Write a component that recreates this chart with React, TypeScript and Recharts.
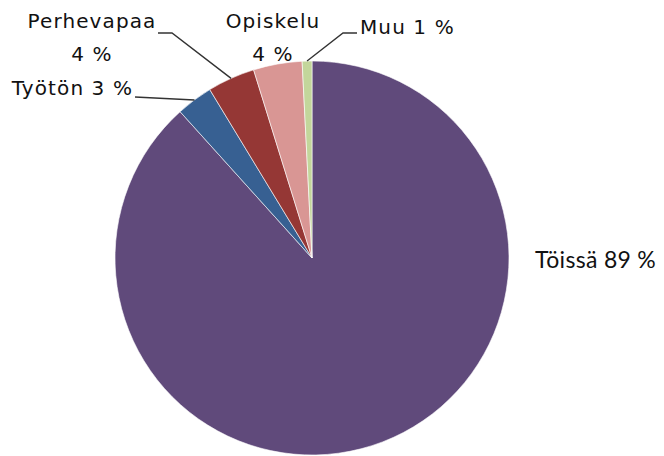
import { PieChart, Pie, Cell } from 'recharts';

const categories = ['Töissä', 'Työtön', 'Perhevapaa', 'Opiskelu', 'Muu'];
const shares = [88.5, 3.0, 3.9, 4.0, 0.8];
const COLORS = ['#604A7B', '#376092', '#953735', '#D99694', '#C3D69B'];

const data = categories.map((name, i) => ({ name, value: shares[i] }));

// label placement, roughly where the original chart had them dragged to
const LABEL_LAYOUT = [
  { x: 535, y: 259, anchor: 'start', lines: 1, font: 'Lato', elbow: null },
  { x: 133, y: 88, anchor: 'end', lines: 1, font: 'DejaVu Sans', elbow: [[135, 97]] },
  { x: 92, y: 21, anchor: 'middle', lines: 2, font: 'DejaVu Sans', elbow: [[172, 33], [158, 33]] },
  { x: 273, y: 21, anchor: 'middle', lines: 2, font: 'DejaVu Sans', elbow: null },
  { x: 360, y: 27, anchor: 'start', lines: 1, font: 'DejaVu Sans', elbow: [[343, 33], [357, 33]] },
];

const RAD = Math.PI / 180;

const renderLabel = (props: any) => {
  const { cx, cy, midAngle, outerRadius, index, value, name } = props;
  const cfg = LABEL_LAYOUT[index];
  const pct = `${Math.round(value)} %`;
  const sx = cx + outerRadius * Math.cos(-midAngle * RAD);
  const sy = cy + outerRadius * Math.sin(-midAngle * RAD);
  const isLato = cfg.font === 'Lato';
  const fontSize = isLato ? 23 : 20;
  const spacing = isLato ? 0.3 : 1.1;
  return (
    <g key={`lbl-${index}`}>
      {cfg.elbow && (
        <polyline
          points={[[sx, sy], ...cfg.elbow].map((p) => p.join(',')).join(' ')}
          fill="none"
          stroke="#333333"
          strokeWidth={1.4}
        />
      )}
      {cfg.lines === 2 ? (
        <text
          x={cfg.x}
          textAnchor={cfg.anchor}
          fill="#111111"
          fontFamily={cfg.font}
          fontSize={fontSize}
          letterSpacing={spacing}
        >
          <tspan x={cfg.x} y={cfg.y} dominantBaseline="central">{name}</tspan>
          <tspan x={cfg.x} y={cfg.y + 33} dominantBaseline="central">{pct}</tspan>
        </text>
      ) : (
        <text
          x={cfg.x}
          y={cfg.y}
          textAnchor={cfg.anchor}
          dominantBaseline="central"
          fill="#111111"
          fontFamily={cfg.font}
          fontSize={fontSize}
          letterSpacing={spacing}
        >
          {`${name} ${pct}`}
        </text>
      )}
    </g>
  );
};

export default function App() {
  return (
    <div style={{ position: 'absolute', left: 0, top: 0, width: 664, height: 456, background: '#fff' }}>
      <PieChart width={664} height={456} margin={{ top: 0, right: 0, bottom: 0, left: 0 }}>
        <Pie
          data={data}
          dataKey="value"
          nameKey="name"
          cx={312}
          cy={258}
          outerRadius={197}
          startAngle={90}
          endAngle={-270}
          stroke="#ffffff"
          strokeWidth={0.6}
          label={renderLabel}
          labelLine={false}
          isAnimationActive={false}
        >
          {data.map((d, i) => (
            <Cell key={d.name} fill={COLORS[i]} />
          ))}
        </Pie>
      </PieChart>
    </div>
  );
}
